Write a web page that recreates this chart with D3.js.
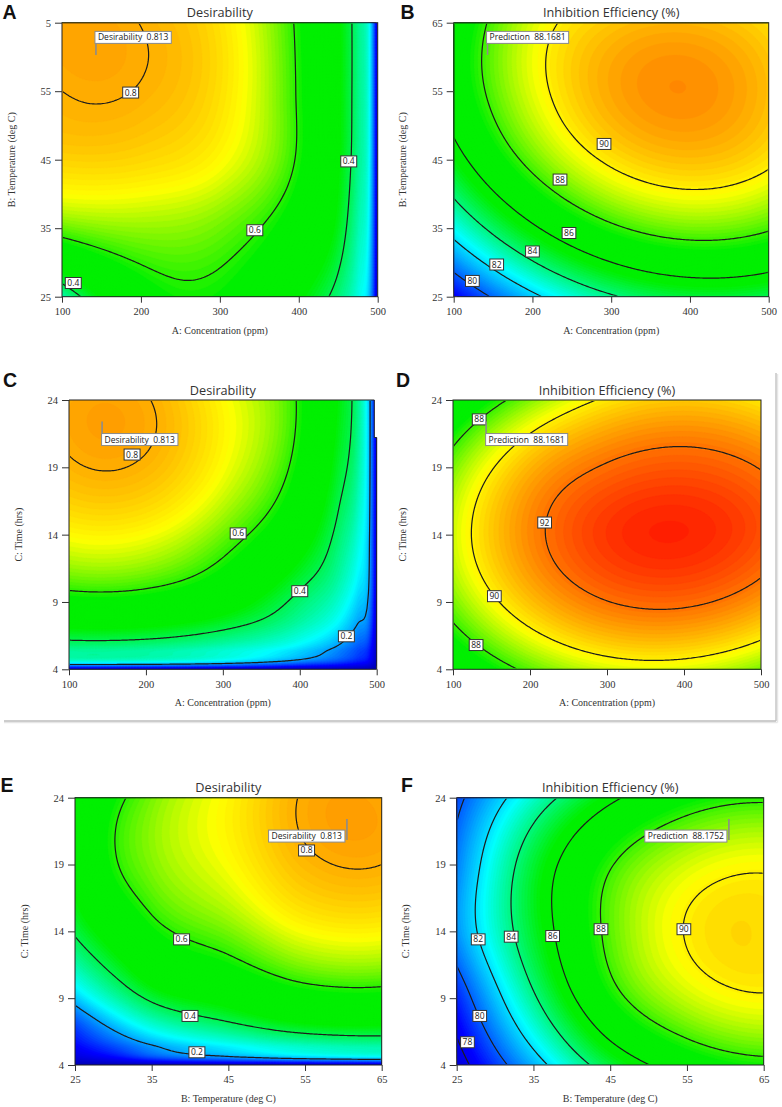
<!DOCTYPE html>
<html><head><meta charset="utf-8">
<script src="https://cdn.jsdelivr.net/npm/d3@7"></script>
<style>
html,body{margin:0;padding:0;background:#fff;}
svg{display:block;}
</style></head><body>
<svg id="chart" width="782" height="1107"></svg>
<script>
// ================= DATA =================
const concTicks = [100, 200, 300, 400, 500];
const tempTicks = [25, 35, 45, 55, 65];
const timeTicks = [4, 9, 14, 19, 24];
const concTickLabels = ["100", "200", "300", "400", "500"];
const tempTickLabels = ["25", "35", "45", "55", "65"];
const tempTickLabelsA = ["25", "35", "45", "55", "5"];
const timeTickLabels = ["4", "9", "14", "19", "24"];

// Panel A: Desirability, concentration x temperature (rows = temperature)
const desAB_conc = [100, 200, 300, 400, 450, 475, 490, 500];
const desAB_temp = [25, 35, 45, 55, 65];
const desAB = [
  [0.33, 0.55, 0.58, 0.47, 0.37, 0.29, 0.21, 0.0],
  [0.63, 0.655, 0.635, 0.54, 0.44, 0.33, 0.24, 0.0],
  [0.76, 0.755, 0.715, 0.59, 0.465, 0.355, 0.255, 0.0],
  [0.80, 0.797, 0.745, 0.592, 0.47, 0.36, 0.26, 0.0],
  [0.812, 0.799, 0.742, 0.587, 0.47, 0.36, 0.26, 0.0]
];
const desAB_levels = [0.4, 0.6, 0.8];
const desAB_labels = [["0.8", 187, 54.8], ["0.6", 344.3, 34.7], ["0.4", 463.3, 44.75], ["0.4", 114.3, 27]];
const desAB_point = [143, 60.3];

// Panel B: Inhibition efficiency, concentration x temperature
const ieAB_conc = [100, 200, 300, 400, 500];
const ieAB_temp = [25, 35, 45, 55, 65];
const ieAB = [
  [78.31, 81.67, 83.84, 84.80, 84.56],
  [82.59, 85.77, 87.76, 88.54, 88.12],
  [85.40, 88.40, 90.20, 90.80, 90.20],
  [86.73, 89.55, 91.17, 91.59, 90.81],
  [86.59, 89.45, 90.67, 90.95, 90.30]
];
const ieAB_levels = [80, 82, 84, 86, 88, 90];
const ieAB_labels = [["90", 290.9, 47.3], ["88", 235, 42.1], ["86", 246.4, 34.3], ["84", 200, 31.6], ["82", 154.6, 29.7], ["80", 123.7, 27.3]];
const ieAB_point = [143, 60.3];

// Panel C: Desirability, concentration x time (rows = time)
const desAC_conc = [100, 200, 300, 400, 450, 475, 490, 500];
const desAC_time = [4, 4.5, 5.5, 7, 9.5, 14, 19, 24];
const desAC = [
  [0, 0, 0, 0, 0, 0, 0, 0],
  [0.26, 0.255, 0.225, 0.16, 0.12, 0.09, 0.065, 0.008],
  [0.35, 0.345, 0.31, 0.245, 0.185, 0.14, 0.105, 0.012],
  [0.455, 0.45, 0.405, 0.32, 0.25, 0.19, 0.15, 0.016],
  [0.585, 0.58, 0.52, 0.39, 0.315, 0.245, 0.19, 0.02],
  [0.715, 0.71, 0.635, 0.50, 0.38, 0.30, 0.21, 0.024],
  [0.793, 0.792, 0.71, 0.57, 0.43, 0.345, 0.22, 0.027],
  [0.806, 0.803, 0.716, 0.59, 0.455, 0.36, 0.222, 0.028]
];
const desAC_levels = [0.2, 0.4, 0.6, 0.8];
const desAC_labels = [["0.8", 182, 19.95], ["0.6", 319.9, 14.09], ["0.4", 400, 9.8], ["0.2", 460.6, 6.45]];
const desAC_point = [143, 22.4];

// Panel D: Inhibition efficiency, concentration x time
const ieAC_conc = [100, 200, 300, 400, 500];
const ieAC_time = [4, 9, 14, 19, 24];
const ieAC = [
  [86.16, 88.27, 89.38, 89.48, 88.59],
  [88.56, 90.76, 91.97, 92.17, 91.38],
  [89.36, 91.66, 92.96, 93.26, 92.56],
  [88.56, 90.96, 92.10, 92.45, 91.95],
  [86.16, 88.65, 90.15, 90.64, 90.13]
];
const ieAC_levels = [88, 90, 92];
const ieAC_labels = [["92", 219, 14.9], ["90", 153.7, 9.43], ["88", 134, 22.56], ["88", 130, 5.8]];
const ieAC_point = [143, 22.4];

// Panel E: Desirability, temperature x time (rows = time)
const desBC_temp = [25, 30, 35, 45, 55, 65];
const desBC_time = [4, 4.5, 5.5, 7, 9.5, 14, 19, 24];
const desBC = [
  [0, 0, 0, 0, 0, 0],
  [0.04, 0.07, 0.12, 0.17, 0.21, 0.23],
  [0.08, 0.14, 0.20, 0.27, 0.32, 0.34],
  [0.13, 0.22, 0.30, 0.385, 0.45, 0.46],
  [0.25, 0.35, 0.44, 0.51, 0.575, 0.585],
  [0.41, 0.50, 0.575, 0.64, 0.71, 0.72],
  [0.48, 0.59, 0.645, 0.71, 0.788, 0.80],
  [0.47, 0.575, 0.64, 0.72, 0.805, 0.81]
];
const desBC_levels = [0.2, 0.4, 0.6, 0.8];
const desBC_labels = [["0.8", 55.2, 20.05], ["0.6", 38.9, 13.4], ["0.4", 40, 7.67], ["0.2", 40.9, 4.95]];
const desBC_point = [60.4, 22.4];

// Panel F: Inhibition efficiency, temperature x time
const ieBC_temp = [25, 35, 45, 55, 65];
const ieBC_time = [4, 9, 14, 19, 24];
const ieBC = [
  [77.3, 81.3, 84.8, 86.8, 87.6],
  [79.0, 83.8, 87.5, 89.3, 89.9],
  [80.8, 85.0, 88.3, 90.05, 90.35],
  [80.5, 84.9, 87.9, 89.4, 89.85],
  [79.6, 83.1, 85.7, 87.3, 87.8]
];
const ieBC_levels = [78, 80, 82, 84, 86, 88, 90];
const ieBC_labels = [["90", 54.6, 14.16], ["88", 43.8, 14.16], ["86", 37.5, 13.65], ["84", 32.1, 13.6], ["82", 27.8, 13.4], ["80", 28.0, 7.67], ["78", 26.4, 5.7]];
const ieBC_point = [60.4, 22.4];

const flagTexts = ["Desirability\u00a0\u00a00.813", "Prediction\u00a0\u00a088.1681", "Prediction\u00a0\u00a088.1752"];

// ================= RENDERING =================
const svg = d3.select("#chart");
const palette = ["#0000b0", "#0000ff", "#00ffff", "#00f000", "#00f000", "#ffff00", "#ff0000"];
const ieColor = d3.scaleLinear().domain([76, 78.5, 82.5, 85.5, 87.5, 89.8, 93.8]).range(palette).clamp(true);
const desColor = d3.scaleLinear().domain([0, 0.08, 0.27, 0.46, 0.58, 0.71, 1]).range(palette).clamp(true);

// smooth (quadratic-exact) cubic Hermite through grid nodes
function hermite(xs, ys) {
  const n = xs.length, h = [], s = [], m = new Array(n);
  for (let i = 0; i < n - 1; i++) { h[i] = xs[i + 1] - xs[i]; s[i] = (ys[i + 1] - ys[i]) / h[i]; }
  for (let i = 1; i < n - 1; i++) m[i] = (s[i - 1] * h[i] + s[i] * h[i - 1]) / (h[i - 1] + h[i]);
  m[0] = s[0] + (s[0] - s[1]) * h[0] / (h[0] + h[1]);
  m[n - 1] = s[n - 2] + (s[n - 2] - s[n - 3]) * h[n - 2] / (h[n - 3] + h[n - 2]);
  return function (x) {
    let i = d3.bisectRight(xs, x) - 1; i = Math.max(0, Math.min(n - 2, i));
    const t = (x - xs[i]) / h[i], t2 = t * t, t3 = t2 * t;
    return (2 * t3 - 3 * t2 + 1) * ys[i] + (t3 - 2 * t2 + t) * h[i] * m[i] + (-2 * t3 + 3 * t2) * ys[i + 1] + (t3 - t2) * h[i] * m[i + 1];
  };
}

const panels = [
  { letter: "A", lx: 2.5, ly: 18.5, title: "Desirability", box: [62, 22.7, 377.7, 296.7],
    xDom: [100, 500], yDom: [25, 65], xTicks: concTicks, xLabels: concTickLabels, yTicks: tempTicks, yLabels: tempTickLabelsA,
    xTitle: "A: Concentration (ppm)", yTitle: "B: Temperature (deg C)",
    gx: desAB_conc, gy: desAB_temp, z: desAB, color: desColor, clamp: [0, 1], fill: [0, 1, 0.008],
    levels: desAB_levels, labels: desAB_labels, point: desAB_point, flag: flagTexts[0], flagPos: "above" },
  { letter: "B", lx: 400.5, ly: 18.5, title: "Inhibition Efficiency (%)", box: [453.7, 22.7, 768.7, 296.7],
    xDom: [100, 500], yDom: [25, 65], xTicks: concTicks, xLabels: concTickLabels, yTicks: tempTicks, yLabels: tempTickLabels,
    xTitle: "A: Concentration (ppm)", yTitle: "B: Temperature (deg C)",
    gx: ieAB_conc, gy: ieAB_temp, z: ieAB, color: ieColor, clamp: [70, 100], fill: [76, 94, 0.15],
    levels: ieAB_levels, labels: ieAB_labels, point: ieAB_point, flag: flagTexts[1], flagPos: "above" },
  { letter: "C", lx: 3, ly: 387, title: "Desirability", box: [69, 400, 376.7, 669.3], notch: [374.3, 437.5],
    xDom: [100, 500], yDom: [4, 24], xTicks: concTicks, xLabels: concTickLabels, yTicks: timeTicks, yLabels: timeTickLabels,
    xTitle: "A: Concentration (ppm)", yTitle: "C: Time (hrs)",
    gx: desAC_conc, gy: desAC_time, z: desAC, color: desColor, clamp: [0, 1], fill: [0, 1, 0.008],
    levels: desAC_levels, labels: desAC_labels, point: desAC_point, flag: flagTexts[0], flagPos: "below" },
  { letter: "D", lx: 396, ly: 387, title: "Inhibition Efficiency (%)", box: [453, 400, 761, 669.3],
    xDom: [100, 500], yDom: [4, 24], xTicks: concTicks, xLabels: concTickLabels, yTicks: timeTicks, yLabels: timeTickLabels,
    xTitle: "A: Concentration (ppm)", yTitle: "C: Time (hrs)",
    gx: ieAC_conc, gy: ieAC_time, z: ieAC, color: ieColor, clamp: [70, 100], fill: [76, 94, 0.15],
    levels: ieAC_levels, labels: ieAC_labels, point: ieAC_point, flag: flagTexts[1], flagPos: "below" },
  { letter: "E", lx: 0.5, ly: 792, title: "Desirability", box: [75, 797.7, 381.7, 1065],
    xDom: [25, 65], yDom: [4, 24], xTicks: tempTicks, xLabels: tempTickLabels, yTicks: timeTicks, yLabels: timeTickLabels,
    xTitle: "B: Temperature (deg C)", yTitle: "C: Time (hrs)",
    gx: desBC_temp, gy: desBC_time, z: desBC, color: desColor, clamp: [0, 1], fill: [0, 1, 0.008],
    levels: desBC_levels, labels: desBC_labels, point: desBC_point, flag: flagTexts[0], flagPos: "belowLeft" },
  { letter: "F", lx: 401, ly: 792, title: "Inhibition Efficiency (%)", box: [456.7, 797.7, 763.7, 1065],
    xDom: [25, 65], yDom: [4, 24], xTicks: tempTicks, xLabels: tempTickLabels, yTicks: timeTicks, yLabels: timeTickLabels,
    xTitle: "B: Temperature (deg C)", yTitle: "C: Time (hrs)",
    gx: ieBC_temp, gy: ieBC_time, z: ieBC, color: ieColor, clamp: [70, 100], fill: [76, 94, 0.15],
    levels: ieBC_levels, labels: ieBC_labels, point: ieBC_point, flag: flagTexts[2], flagPos: "belowLeft" }
];

// frame around panels C and D
svg.append("line").attr("x1", 4).attr("y1", 722.5).attr("x2", 777.5).attr("y2", 722.5).attr("stroke", "#e6e6e6").attr("stroke-width", 1.5);
svg.append("line").attr("x1", 777.5).attr("y1", 374).attr("x2", 777.5).attr("y2", 722.5).attr("stroke", "#e6e6e6").attr("stroke-width", 1.5);
svg.append("line").attr("x1", 4).attr("y1", 721).attr("x2", 776).attr("y2", 721).attr("stroke", "#bdbdbd").attr("stroke-width", 1.3);
svg.append("line").attr("x1", 776).attr("y1", 373).attr("x2", 776).attr("y2", 721).attr("stroke", "#bdbdbd").attr("stroke-width", 1.3);

panels.forEach((p, k) => {
  const [x0, y0, x1, y1] = p.box;
  const W = x1 - x0, H = y1 - y0;
  const xs = d3.scaleLinear().domain(p.xDom).range([x0, x1]);
  const ys = d3.scaleLinear().domain(p.yDom).range([y1, y0]);
  const nx = Math.round(W / 1.5), ny = Math.round(H / 1.5);

  // surface sampled from the grid nodes
  const rowF = p.z.map(r => hermite(p.gx, r));
  const vals = new Float64Array(nx * ny);
  for (let i = 0; i < nx; i++) {
    const xv = xs.invert(x0 + (i + 0.5) * W / nx);
    const colF = hermite(p.gy, rowF.map(f => f(xv)));
    for (let j = 0; j < ny; j++) {
      const yv = ys.invert(y0 + (j + 0.5) * H / ny);
      vals[j * nx + i] = Math.max(p.clamp[0], Math.min(p.clamp[1], colF(yv)));
    }
  }
  const proj = d3.geoTransform({ point(x, y) { this.stream.point(x0 + x * W / nx, y0 + y * H / ny); } });
  const path = d3.geoPath(proj);

  const g = svg.append("g");
  const clipId = "clip" + k, clipIn = "clipin" + k;
  const defs = g.append("defs");
  defs.append("clipPath").attr("id", clipId).append("rect").attr("x", x0).attr("y", y0).attr("width", W).attr("height", H);
  defs.append("clipPath").attr("id", clipIn).append("rect").attr("x", x0 + 1).attr("y", y0 + 1).attr("width", W - 2).attr("height", H - 2);

  // colour fill
  const ext = d3.extent(vals);
  const [lo, hi, step] = p.fill;
  const th = d3.range(lo, hi + 1e-9, step).filter(t => t > ext[0] && t <= ext[1]);
  const fillG = g.append("g").attr("clip-path", `url(#${clipId})`);
  fillG.append("rect").attr("x", x0).attr("y", y0).attr("width", W).attr("height", H).attr("fill", p.color(ext[0]));
  const bands = d3.contours().size([nx, ny]).thresholds(th)(vals);
  fillG.selectAll("path").data(bands).join("path")
    .attr("d", path).attr("fill", d => p.color(d.value + step / 2)).attr("stroke", d => p.color(d.value + step / 2)).attr("stroke-width", 0.3);

  // contour lines
  const lines = d3.contours().size([nx, ny]).thresholds(p.levels)(vals);
  g.append("g").attr("clip-path", `url(#${clipIn})`).selectAll("path").data(lines).join("path")
    .attr("d", path).attr("fill", "none").attr("stroke", "#1c1c1c").attr("stroke-width", 1.2);

  // notch (panel C top-right corner)
  if (p.notch) {
    g.append("rect").attr("x", p.notch[0] + 0.2).attr("y", y0 - 2).attr("width", x1 - p.notch[0] + 3).attr("height", p.notch[1] - y0 + 2).attr("fill", "#fff");
  }
  // plot border
  if (p.notch) {
    g.append("path").attr("d", `M${x0},${y0}H${p.notch[0]}V${p.notch[1]}H${x1}V${y1}H${x0}Z`)
      .attr("fill", "none").attr("stroke", "#222").attr("stroke-width", 1);
  } else {
    g.append("rect").attr("x", x0).attr("y", y0).attr("width", W).attr("height", H)
      .attr("fill", "none").attr("stroke", "#222").attr("stroke-width", 1);
  }

  // contour labels
  p.labels.forEach(([txt, xv, yv]) => {
    const cx = xs(xv), cy = ys(yv);
    const lg = g.append("g");
    const r = lg.append("rect");
    const t = lg.append("text").attr("x", cx).attr("y", cy + 3).attr("text-anchor", "middle")
      .attr("font-family", "Open Sans, Noto Sans, sans-serif").attr("font-size", 8.5).attr("fill", "#222").text(txt);
    const tw = t.node().getComputedTextLength();
    r.attr("x", cx - tw / 2 - 2).attr("y", cy - 5.5).attr("width", tw + 4).attr("height", 11)
      .attr("fill", "#fff").attr("stroke", "#333").attr("stroke-width", 1);
  });

  // prediction flag
  {
    const px = xs(p.point[0]), py = ys(p.point[1]);
    const fg = g.append("g");
    const pole = fg.append("line").attr("stroke", "#8c8c8c").attr("stroke-width", 1.6);
    const r = fg.append("rect");
    const t = fg.append("text").attr("font-family", "Open Sans, Noto Sans, sans-serif").attr("font-size", 8.5).attr("fill", "#222").text(p.flag);
    const tw = t.node().getComputedTextLength();
    const bw = tw + 6, bh = 12;
    let bx, by;
    if (p.flagPos === "above") { bx = px - 1; by = py - 11.5 - bh; pole.attr("x1", px).attr("y1", py).attr("x2", px).attr("y2", by + bh); }
    else if (p.flagPos === "below") { bx = px - 0.5; by = py + 12; pole.attr("x1", px).attr("y1", py).attr("x2", px).attr("y2", by); }
    else { bx = px - 1.5 - bw; by = py + 11; pole.attr("x1", px + 0.5).attr("y1", py).attr("x2", px + 0.5).attr("y2", py + 21); }
    r.attr("x", bx).attr("y", by).attr("width", bw).attr("height", bh).attr("fill", "#fff").attr("stroke", "#8a8a8a").attr("stroke-width", 1);
    t.attr("x", bx + 3).attr("y", by + 9);
  }

  // axes
  const xAxis = d3.axisBottom(xs).tickValues(p.xTicks).tickFormat((d, i) => p.xLabels[i]).tickSize(6).tickPadding(5);
  const yAxis = d3.axisLeft(ys).tickValues(p.yTicks).tickFormat((d, i) => p.yLabels[i]).tickSize(7).tickPadding(4);
  const styleAxis = s => {
    s.select(".domain").remove();
    s.selectAll(".tick line").attr("stroke", "#333").attr("stroke-width", 1);
    s.selectAll(".tick text").attr("font-family", "Liberation Serif, Times New Roman, serif").attr("font-size", 10.5).attr("fill", "#333");
  };
  g.append("g").attr("transform", `translate(0,${y1})`).call(xAxis).call(styleAxis);
  g.append("g").attr("transform", `translate(${x0},0)`).call(yAxis).call(styleAxis);

  // titles
  g.append("text").attr("x", (x0 + x1) / 2).attr("y", y0 - 5.5).attr("text-anchor", "middle")
    .attr("font-family", "Open Sans, Noto Sans, sans-serif").attr("font-size", 12.7).attr("fill", "#333").text(p.title);
  g.append("text").attr("x", (x0 + x1) / 2).attr("y", y1 + 37).attr("text-anchor", "middle")
    .attr("font-family", "Liberation Serif, Times New Roman, serif").attr("font-size", 10).attr("fill", "#333").text(p.xTitle);
  g.append("text").attr("transform", `translate(${x0 - 47.5},${(y0 + y1) / 2}) rotate(-90)`).attr("text-anchor", "middle")
    .attr("font-family", "Liberation Serif, Times New Roman, serif").attr("font-size", 10).attr("fill", "#333").text(p.yTitle);
  g.append("text").attr("x", p.lx).attr("y", p.ly)
    .attr("font-family", "Liberation Sans, Arial, sans-serif").attr("font-weight", "bold").attr("font-size", 19.5).attr("fill", "#111").text(p.letter);
});
</script>
</body></html>
